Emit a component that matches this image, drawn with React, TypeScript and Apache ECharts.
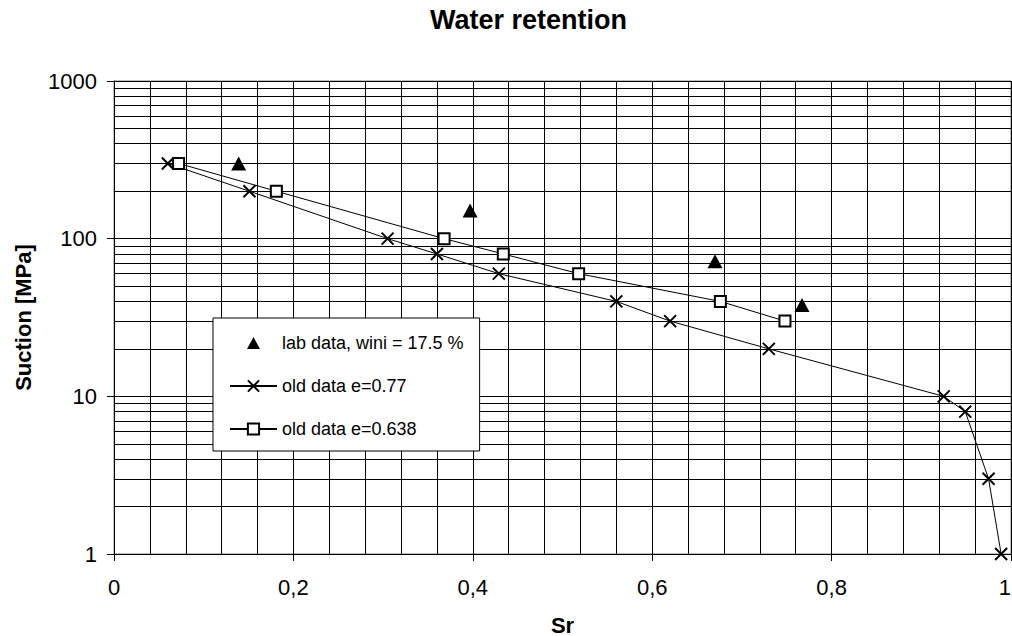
import React, { useEffect, useRef } from "react";
import * as echarts from "echarts";

const titleText = "Water retention";
const xName = "Sr";
const yName = "Suction [MPa]";

const labName = "lab data, wini = 17.5 %";
const labSr = [0.139, 0.397, 0.67, 0.767];
const labSuction = [300, 151, 72, 38];

const old077Name = "old data e=0.77";
const old077Sr = [0.06, 0.151, 0.305, 0.36, 0.429, 0.56, 0.62, 0.73, 0.925, 0.949, 0.975, 0.989];
const old077Suction = [300, 200, 100, 80, 60, 40, 30, 20, 10, 8, 3, 1];

const old0638Name = "old data e=0.638";
const old0638Sr = [0.072, 0.181, 0.368, 0.434, 0.518, 0.676, 0.748];
const old0638Suction = [300, 200, 100, 80, 60, 40, 30];

const yMinorGrid = [2, 3, 4, 5, 6, 7, 8, 9, 20, 30, 40, 50, 60, 70, 80, 90, 200, 300, 400, 500, 600, 700, 800, 900];

const FONT = "'Liberation Sans', Arial, sans-serif";

// legend triangle icon: invisible 47x14 frame so the triangle keeps its aspect
const legendTriangle = "path://M0,0M47,14M17,13L23.5,1L30,13Z";

function zip(xs: number[], ys: number[]) {
  return xs.map((x, i) => [x, ys[i]]);
}

export default function App() {
  const ref = useRef<HTMLDivElement>(null);
  useEffect(() => {
    if (!ref.current) return;
    const chart = echarts.init(ref.current, undefined, { renderer: "svg" });
    chart.setOption({
      animation: false,
      backgroundColor: "#fff",
      textStyle: { fontFamily: FONT },
      title: {
        text: titleText,
        left: 430,
        top: 6,
        padding: 0,
        textStyle: { fontSize: 27, fontWeight: "bold", color: "#000", fontFamily: FONT },
      },
      grid: {
        left: 114,
        right: 1,
        top: 81,
        bottom: 82,
        show: true,
        borderColor: "#808080",
        borderWidth: 1,
        backgroundColor: "transparent",
        containLabel: false,
        outerBoundsMode: "none",
      },
      legend: {
        orient: "vertical",
        left: 213,
        top: 318,
        padding: [16, 16, 13, 16],
        itemGap: 25,
        itemWidth: 47,
        itemHeight: 14,
        backgroundColor: "#fff",
        borderColor: "#000",
        borderWidth: 1,
        textStyle: { fontSize: 18, color: "#000", fontFamily: FONT },
        data: [
          { name: labName, icon: legendTriangle },
          { name: old077Name },
          { name: old0638Name },
        ],
      },
      xAxis: {
        type: "value",
        min: 0,
        max: 1,
        interval: 0.2,
        name: xName,
        nameLocation: "middle",
        nameGap: 60,
        nameTextStyle: { fontSize: 22, fontWeight: "bold", color: "#000", fontFamily: FONT },
        axisLine: { show: true, lineStyle: { color: "#000", width: 1 } },
        axisTick: { show: true, inside: false, length: 7, lineStyle: { color: "#000" } },
        axisLabel: {
          fontSize: 22,
          color: "#000",
          margin: 22,
          fontFamily: FONT,
          alignMaxLabel: "right",
          formatter: (v: number) => String(Number(v.toFixed(2))).replace(".", ","),
        },
        splitLine: { show: true, lineStyle: { color: "#000", width: 1 } },
        minorTick: { show: false, splitNumber: 5 },
        minorSplitLine: { show: true, lineStyle: { color: "#000", width: 1 } },
      },
      yAxis: {
        type: "log",
        logBase: 10,
        min: 1,
        max: 1000,
        name: yName,
        nameLocation: "middle",
        nameGap: 80,
        nameTextStyle: { fontSize: 22, fontWeight: "bold", color: "#000", fontFamily: FONT },
        axisLine: { show: true, lineStyle: { color: "#000", width: 1 } },
        axisTick: { show: true, inside: false, length: 7, lineStyle: { color: "#000" } },
        axisLabel: {
          fontSize: 22,
          color: "#000",
          margin: 17,
          fontFamily: FONT,
          formatter: (v: number) => String(Math.round(v)),
        },
        splitLine: { show: true, lineStyle: { color: "#000", width: 1 } },
      },
      series: [
        {
          name: labName,
          type: "scatter",
          symbol: "triangle",
          symbolSize: [15, 14],
          itemStyle: { color: "#000", opacity: 1 },
          data: zip(labSr, labSuction),
          z: 5,
          markLine: {
            silent: true,
            symbol: ["none", "none"],
            label: { show: false },
            lineStyle: { color: "#000", width: 1, type: "solid" },
            emphasis: { disabled: true },
            z: 1,
            data: yMinorGrid.map((v) => ({ yAxis: v })),
          },
        },
        {
          name: old077Name,
          type: "line",
          symbol: "path://M0,0L10,10M10,0L0,10",
          symbolSize: 12,
          showAllSymbol: true,
          itemStyle: { color: "#000", borderColor: "#000", borderWidth: 2 },
          lineStyle: { color: "#000", width: 1 },
          data: zip(old077Sr, old077Suction),
          z: 4,
        },
        {
          name: old0638Name,
          type: "line",
          symbol: "rect",
          symbolSize: 11,
          showAllSymbol: true,
          itemStyle: { color: "#fff", borderColor: "#000", borderWidth: 2 },
          lineStyle: { color: "#000", width: 1 },
          data: zip(old0638Sr, old0638Suction),
          z: 4,
        },
      ],
    });
    return () => chart.dispose();
  }, []);
  return (
    <div
      ref={ref}
      style={{ position: "absolute", left: 0, top: 0, width: 1012, height: 636 }}
    />
  );
}
